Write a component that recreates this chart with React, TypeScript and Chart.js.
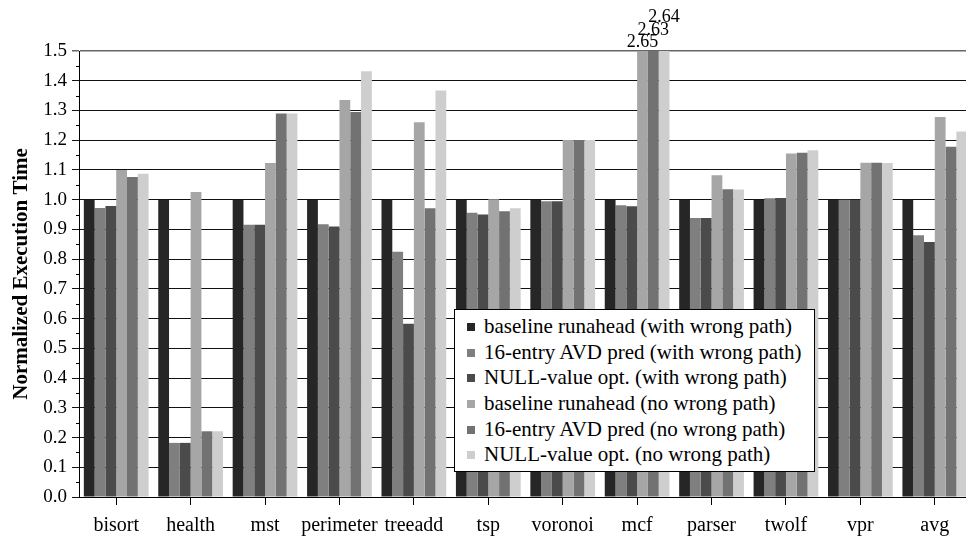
import React, { useEffect, useRef } from "react";
import { Chart, registerables } from "chart.js";

Chart.register(...registerables);

// Benchmarks on the x axis
const benchmarks = [
  "bisort", "health", "mst", "perimeter", "treeadd", "tsp",
  "voronoi", "mcf", "parser", "twolf", "vpr", "avg",
];

// Series names (legend order)
const seriesNames = [
  "baseline runahead (with wrong path)",
  "16-entry AVD pred (with wrong path)",
  "NULL-value opt. (with wrong path)",
  "baseline runahead (no wrong path)",
  "16-entry AVD pred (no wrong path)",
  "NULL-value opt. (no wrong path)",
];

// Normalized execution time per benchmark
const baselineWithWP = [1.0, 1.0, 1.0, 1.0, 1.0, 1.0, 1.0, 1.0, 1.0, 1.0, 1.0, 1.0];
const avdWithWP = [0.972, 0.182, 0.916, 0.917, 0.825, 0.956, 0.995, 0.981, 0.938, 1.005, 1.0, 0.88];
const nullWithWP = [0.979, 0.182, 0.916, 0.91, 0.583, 0.95, 0.995, 0.978, 0.938, 1.006, 1.0, 0.858];
const baselineNoWP = [1.1, 1.026, 1.123, 1.335, 1.26, 1.001, 1.201, 2.65, 1.082, 1.155, 1.124, 1.278];
const avdNoWP = [1.076, 0.221, 1.29, 1.295, 0.971, 0.961, 1.201, 2.63, 1.035, 1.158, 1.124, 1.178];
const nullNoWP = [1.087, 0.221, 1.29, 1.432, 1.367, 0.971, 1.201, 2.64, 1.034, 1.166, 1.123, 1.229];

const seriesColors = ["#262626", "#7f7f7f", "#4b4b4b", "#a6a6a6", "#727272", "#cecece"];

// Y axis range
const yMin = 0;
const yMax = 1.5;
const yStep = 0.1;

const serif = "'Liberation Serif', 'Times New Roman', serif";

// Small minor ticks halfway between the major y ticks
const minorTicks = {
  id: "minorTicks",
  afterDraw(chart: any) {
    const { ctx, chartArea, scales } = chart;
    const y = scales.y;
    ctx.save();
    ctx.strokeStyle = "#000";
    ctx.lineWidth = 1;
    for (let v = yMin + yStep / 2; v < yMax; v += yStep) {
      const py = Math.round(y.getPixelForValue(v)) + 0.5;
      ctx.beginPath();
      ctx.moveTo(chartArea.left - 3, py);
      ctx.lineTo(chartArea.left, py);
      ctx.stroke();
    }
    ctx.restore();
  },
};

// Value labels for bars that run past the top of the axis
const overflowLabels = {
  id: "overflowLabels",
  afterDatasetsDraw(chart: any) {
    const { ctx, chartArea } = chart;
    ctx.save();
    ctx.font = `18px ${serif}`;
    ctx.fillStyle = "#000";
    ctx.textAlign = "center";
    ctx.textBaseline = "alphabetic";
    benchmarks.forEach((_, i) => {
      let rank = 0;
      chart.data.datasets.forEach((ds: any, di: number) => {
        const v = ds.data[i];
        if (v > yMax) {
          const bar = chart.getDatasetMeta(di).data[i];
          ctx.fillText(v.toFixed(2), bar.x, chartArea.top - 4 - rank * 12.5);
          rank++;
        }
      });
    });
    ctx.restore();
  },
};

export default function App() {
  const canvasRef = useRef<HTMLCanvasElement | null>(null);

  useEffect(() => {
    const canvas = canvasRef.current;
    if (!canvas) return;
    const values = [baselineWithWP, avdWithWP, nullWithWP, baselineNoWP, avdNoWP, nullNoWP];
    const chart = new Chart(canvas, {
      type: "bar",
      data: {
        labels: benchmarks,
        datasets: seriesNames.map((name, k) => ({
          label: name,
          data: values[k],
          backgroundColor: seriesColors[k],
          borderWidth: 0,
          categoryPercentage: 0.87,
          barPercentage: 1.0,
        })),
      },
      options: {
        responsive: false,
        animation: false,
        devicePixelRatio: 1,
        layout: { padding: { top: 51, right: 8, left: 0, bottom: 0 } },
        plugins: {
          legend: { display: false },
          tooltip: { enabled: false },
          title: { display: false },
        },
        scales: {
          x: {
            afterFit: (s: any) => {
              s.height = 40;
            },
            grid: {
              offset: false,
              drawOnChartArea: false,
              drawTicks: true,
              tickLength: 8,
              color: "#000",
            },
            border: { display: true, color: "#000", width: 1 },
            ticks: {
              color: "#000",
              font: { family: serif, size: 20 },
              padding: 9,
              maxRotation: 0,
              autoSkip: false,
            },
          },
          y: {
            min: yMin,
            max: yMax,
            afterFit: (s: any) => {
              s.width = 79;
            },
            grid: {
              color: (c: any) => (c.tick && Math.abs(c.tick.value - yMax) < 1e-6 ? "#666" : "#111"),
              lineWidth: (c: any) => (c.tick && Math.abs(c.tick.value - yMax) < 1e-6 ? 1.5 : 1),
              drawTicks: true,
              tickLength: 7,
            },
            border: { display: true, color: "#000", width: 1 },
            ticks: {
              stepSize: yStep,
              color: "#000",
              font: { family: serif, size: 19 },
              padding: 5,
              callback: (v: any) => Number(v).toFixed(1),
            },
            title: {
              display: true,
              text: "Normalized Execution Time",
              color: "#000",
              font: { family: serif, size: 21, weight: "bold" },
              padding: { top: 9, bottom: 0 },
            },
          },
        },
      },
      plugins: [minorTicks, overflowLabels],
    });
    return () => chart.destroy();
  }, []);

  return (
    <div
      style={{
        position: "fixed",
        left: 0,
        top: 0,
        width: 966,
        height: 537,
        overflow: "hidden",
        background: "#fff",
      }}
    >
      <canvas
        ref={canvasRef}
        width={980}
        height={537}
        style={{ position: "absolute", left: 0, top: 0, width: 980, height: 537 }}
      />
      <div
        style={{
          position: "absolute",
          left: 454,
          top: 309,
          width: 359,
          height: 157,
          border: "1px solid #000",
          background: "#fff",
          fontFamily: serif,
          fontSize: 21,
          color: "#000",
          paddingTop: 4,
          boxSizing: "content-box",
        }}
      >
        {seriesNames.map((name, k) => (
          <div
            key={name}
            style={{ height: 25.7, lineHeight: "25.7px", whiteSpace: "nowrap", display: "flex", alignItems: "center" }}
          >
            <span
              style={{
                display: "inline-block",
                width: 8,
                height: 8,
                marginLeft: 12,
                marginRight: 9,
                background: seriesColors[k],
              }}
            />
            <span>{name}</span>
          </div>
        ))}
      </div>
    </div>
  );
}
